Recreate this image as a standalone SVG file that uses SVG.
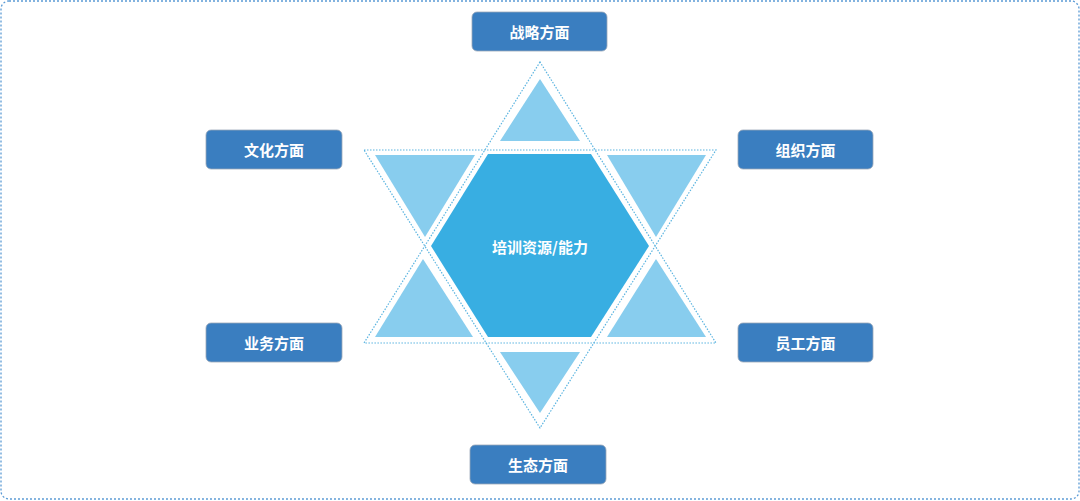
<svg xmlns="http://www.w3.org/2000/svg" width="1080" height="501" viewBox="0 0 1080 501">
<style>
.frame{fill:#fff;stroke:#5b9bd5;stroke-width:1.3;stroke-dasharray:2 2}
.outline{fill:none;stroke:#5bb4e0;stroke-width:1.2;stroke-dasharray:1.5 1.5}
.tri{fill:#88cdee}
.hex{fill:#38aee2}
.box{fill:#3a7ec0;stroke:#9aa7b8;stroke-width:0.8}
.lbl{font-family:"Noto Sans CJK SC","Noto Sans",sans-serif;font-weight:bold;font-size:15px;fill:#fff;text-anchor:middle;dominant-baseline:central}
</style>
<rect class="frame" x="1" y="1" width="1078" height="498" rx="8"/>
<g id="connectors">
<polygon class="outline" points="540,62 364,343 716,343"/>
<polygon class="outline" points="364,150 716,150 540,428"/>
</g>
<g id="triangles">
<polygon class="tri" points="540,79 500,141 580,141"/>
<polygon class="tri" points="375,155 475,155 425,237"/>
<polygon class="tri" points="607,155 706,155 656,237"/>
<polygon class="tri" points="423,259 375,337 473,337"/>
<polygon class="tri" points="656,259 607,337 706,337"/>
<polygon class="tri" points="500,352 580,352 540,413"/>
</g>
<g id="center">
<polygon class="hex" points="488,154 591,154 649,246 591,337 488,337 431,246"/>
<text class="lbl" x="540" y="246">培训资源/能力</text>
</g>
<g id="strategy"><rect class="box" x="472" y="12" width="135" height="39" rx="5"/><text class="lbl" x="539.5" y="31.5">战略方面</text></g>
<g id="culture"><rect class="box" x="206" y="130" width="136" height="39" rx="5"/><text class="lbl" x="274" y="149.5">文化方面</text></g>
<g id="organization"><rect class="box" x="738" y="130" width="135" height="39" rx="5"/><text class="lbl" x="805.5" y="149.5">组织方面</text></g>
<g id="business"><rect class="box" x="206" y="323" width="136" height="39" rx="5"/><text class="lbl" x="274" y="342.5">业务方面</text></g>
<g id="staff"><rect class="box" x="738" y="323" width="135" height="39" rx="5"/><text class="lbl" x="805.5" y="342.5">员工方面</text></g>
<g id="ecology"><rect class="box" x="470" y="445" width="136" height="39" rx="5"/><text class="lbl" x="538" y="464.5">生态方面</text></g>
</svg>
